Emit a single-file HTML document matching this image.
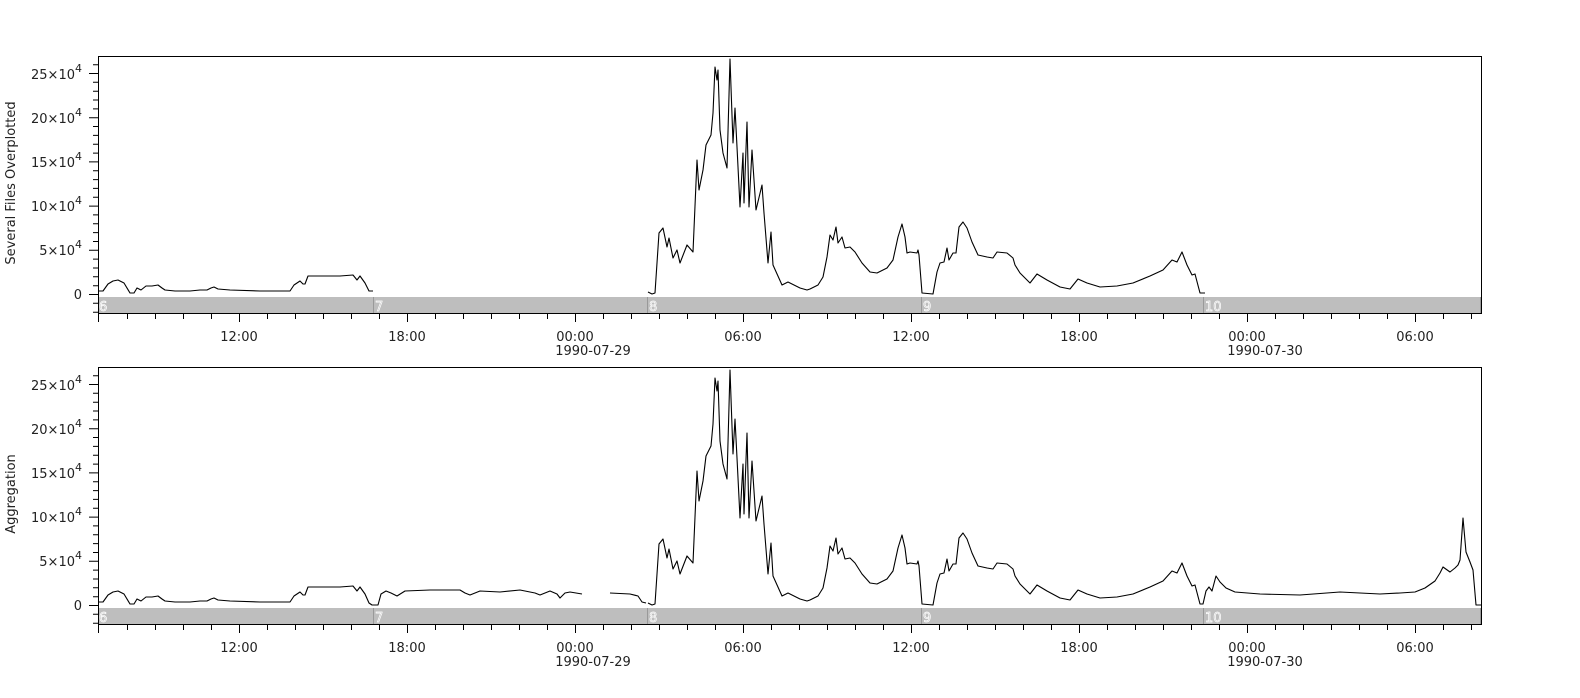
<!DOCTYPE html>
<html><head><meta charset="utf-8"><style>
html,body{margin:0;padding:0;background:#fff;}
svg{display:block;font-family:"DejaVu Sans","Liberation Sans",sans-serif;}
</style></head><body>
<svg width="1580" height="698" viewBox="0 0 1580 698" xmlns="http://www.w3.org/2000/svg">
<defs>
<g id="axes">
  <rect x="98" y="297" width="1384" height="17" fill="#bebebe"/>
  <g stroke="#999" stroke-width="1">
    <line x1="373.5" y1="297" x2="373.5" y2="314"/>
    <line x1="647.5" y1="297" x2="647.5" y2="314"/>
    <line x1="921.5" y1="297" x2="921.5" y2="314"/>
    <line x1="1203.5" y1="297" x2="1203.5" y2="314"/>
    <line x1="1480.5" y1="297" x2="1480.5" y2="314"/>
  </g>
  <g font-size="13" fill="#bebebe" stroke="#fff" stroke-width="0.7">
    <text x="99" y="311">6</text>
    <text x="375" y="311">7</text>
    <text x="649" y="311">8</text>
    <text x="923" y="311">9</text>
    <text x="1205" y="311">10</text>
  </g>
  <rect x="98.5" y="56.5" width="1383" height="257" fill="none" stroke="#000" stroke-width="1"/>
  <path stroke="#000" stroke-width="1" fill="none" d="
  M89 294.5H98 M89 250.3H98 M89 206.1H98 M89 161.9H98 M89 117.7H98 M89 73.5H98
  M93 312.2H98 M93 303.2H98 M93 285.7H98 M93 276.8H98 M93 268H98 M93 259.1H98
  M93 241.5H98 M93 232.6H98 M93 223.8H98 M93 214.9H98 M93 197.3H98 M93 188.4H98 M93 179.6H98 M93 170.7H98
  M93 153.1H98 M93 144.2H98 M93 135.4H98 M93 126.5H98 M93 108.9H98 M93 100H98 M93 91.2H98 M93 82.3H98 M93 64.7H98
  M98.5 314V322 M239.5 314V322 M407.5 314V322 M575.5 314V322 M743.5 314V322 M911.5 314V322 M1079.5 314V322 M1247.5 314V322 M1415.5 314V322
  M127.5 314V319 M155.5 314V319 M183.5 314V319 M211.5 314V319 M267.5 314V319 M295.5 314V319 M323.5 314V319 M351.5 314V319 M379.5 314V319
  M435.5 314V319 M463.5 314V319 M491.5 314V319 M519.5 314V319 M547.5 314V319 M603.5 314V319 M631.5 314V319 M659.5 314V319 M687.5 314V319 M715.5 314V319
  M771.5 314V319 M799.5 314V319 M827.5 314V319 M855.5 314V319 M883.5 314V319 M939.5 314V319 M967.5 314V319 M995.5 314V319 M1023.5 314V319 M1051.5 314V319
  M1107.5 314V319 M1135.5 314V319 M1163.5 314V319 M1191.5 314V319 M1219.5 314V319 M1275.5 314V319 M1303.5 314V319 M1331.5 314V319 M1359.5 314V319 M1387.5 314V319 M1443.5 314V319 M1471.5 314V319"/>
  <g font-size="13" fill="#222" text-anchor="end">
    <text x="82" y="299">0</text>
    <text x="82" y="255">5×10<tspan font-size="11" dy="-7">4</tspan></text>
    <text x="82" y="211">10×10<tspan font-size="11" dy="-7">4</tspan></text>
    <text x="82" y="167">15×10<tspan font-size="11" dy="-7">4</tspan></text>
    <text x="82" y="123">20×10<tspan font-size="11" dy="-7">4</tspan></text>
    <text x="82" y="79">25×10<tspan font-size="11" dy="-7">4</tspan></text>
  </g>
  <g font-size="13" fill="#222" text-anchor="middle">
    <text x="239" y="341">12:00</text>
    <text x="407" y="341">18:00</text>
    <text x="575" y="341">00:00</text>
    <text x="593" y="355">1990-07-29</text>
    <text x="743" y="341">06:00</text>
    <text x="911" y="341">12:00</text>
    <text x="1079" y="341">18:00</text>
    <text x="1247" y="341">00:00</text>
    <text x="1265" y="355">1990-07-30</text>
    <text x="1415" y="341">06:00</text>
  </g>
</g>
</defs>

<!-- Top panel -->
<use href="#axes"/>
<g fill="none" stroke="#000" stroke-width="1.1" stroke-linejoin="round">
  <polyline points="99,291 103,291 108,284 113,281 118,280 124,283 130,293 134,293 137,288 141,290 146,286 152,286 158,285 162,288 165,290 175,291 190,291 200,290 207,290 211,288 214,287 218,289 230,290 260,291 290,291 294,285 300,281 303,284 305,284 308,276 320,276 340,276 353,275 357,280 360,276 365,283 369,291 373,291"/>
  <path d="M648 292 L652 294 655 293 659 233 663 228 667 247 669 238 673 258 677 250 680 263 687 245 693 252 697 160 699 190 703 170 706 145 711 135 713 113 715 67 717 80 718 70 720 130 723 153 727 168 730 59 733 143 735 108 737 147 740 207 743 153 744 203 747 122 749 207 752 150 756 210 762 185 764 213 768 263 771 232 773 265 782 285 788 282 800 288 807 290 810 289 818 285 823 277 827 257 830 235 833 240 836 227 838 243 842 237 845 248 850 247 855 252 862 263 870 272 877 273 887 268 893 260 898 237 902 224 905 237 907 253 910 252 917 253 918 250 919 255 922 293 933 294 937 272 940 263 944 262 947 248 949 260 953 253 956 253 959 227 963 222 967 228 972 242 978 255 987 257 993 258 997 252 1007 253 1013 258 1015 265 1020 273 1030 283 1037 274 1047 280 1060 287 1070 289 1078 279 1087 283 1100 287 1117 286 1133 283 1150 276 1163 270 1172 260 1177 262 1182 252 1187 265 1192 275 1195 274 1200 293 1205 293"/>
</g>
<text transform="translate(15,183) rotate(-90)" font-size="13" fill="#222" text-anchor="middle">Several Files Overplotted</text>

<!-- Bottom panel -->
<g transform="translate(0,311)">
  <use href="#axes"/>
  <g fill="none" stroke="#000" stroke-width="1.1" stroke-linejoin="round">
    <polyline points="99,291 103,291 108,284 113,281 118,280 124,283 130,293 134,293 137,288 141,290 146,286 152,286 158,285 162,288 165,290 175,291 190,291 200,290 207,290 211,288 214,287 218,289 230,290 260,291 290,291 294,285 300,281 303,284 305,284 308,276 320,276 340,276 353,275 357,280 360,276 365,283 369,292 372,294 378,294 381,283 386,280 391,282 397,285 405,280 430,279 460,279 465,282 470,284 480,280 500,281 520,279 535,282 540,284 550,280 557,283 560,287 565,282 570,281 582,283"/>
    <polyline points="610,282 630,283 638,285 642,291 646,292"/>
    <path d="M648 292 L652 294 655 293 659 233 663 228 667 247 669 238 673 258 677 250 680 263 687 245 693 252 697 160 699 190 703 170 706 145 711 135 713 113 715 67 717 80 718 70 720 130 723 153 727 168 730 59 733 143 735 108 737 147 740 207 743 153 744 203 747 122 749 207 752 150 756 210 762 185 764 213 768 263 771 232 773 265 782 285 788 282 800 288 807 290 810 289 818 285 823 277 827 257 830 235 833 240 836 227 838 243 842 237 845 248 850 247 855 252 862 263 870 272 877 273 887 268 893 260 898 237 902 224 905 237 907 253 910 252 917 253 918 250 919 255 922 293 933 294 937 272 940 263 944 262 947 248 949 260 953 253 956 253 959 227 963 222 967 228 972 242 978 255 987 257 993 258 997 252 1007 253 1013 258 1015 265 1020 273 1030 283 1037 274 1047 280 1060 287 1070 289 1078 279 1087 283 1100 287 1117 286 1133 283 1150 276 1163 270 1172 260 1177 262 1182 252 1187 265 1192 275 1195 274 1200 293 1203 293 1206 280 1209 276 1212 280 1216 265 1220 271 1226 277 1235 281 1260 283 1300 284 1340 281 1380 283 1400 282 1415 281 1425 277 1435 270 1440 262 1443 256 1450 261 1455 257 1458 254 1460 249 1463 207 1466 241 1470 251 1473 259 1476 294 1482 294"/>
  </g>
  <text transform="translate(15,183) rotate(-90)" font-size="13" fill="#222" text-anchor="middle">Aggregation</text>
</g>
</svg>
</body></html>
